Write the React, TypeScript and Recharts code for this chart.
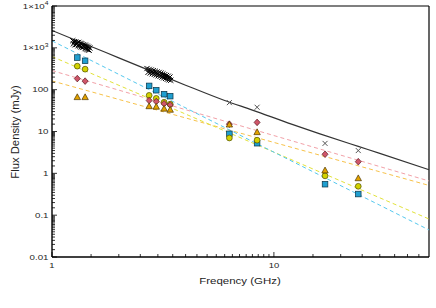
import { ComposedChart, Line, Scatter, XAxis, YAxis, ReferenceLine } from "recharts";

// black crosses: L-band cluster
const lFreq = [1.24, 1.25, 1.26, 1.27, 1.28, 1.29, 1.3, 1.31, 1.32, 1.33, 1.34, 1.35, 1.36, 1.37, 1.38, 1.39, 1.4, 1.41, 1.42, 1.43, 1.44, 1.45, 1.46, 1.47, 1.48];
const lFlux = [1480, 1250, 1400, 1180, 1390, 1200, 1330, 1120, 1350, 1100, 1280, 1050, 1250, 1020, 1190, 1060, 1160, 960, 1120, 930, 1090, 900, 1040, 880, 990];
// black crosses: S-band cluster
const sFreq = [2.68, 2.71, 2.74, 2.77, 2.8, 2.83, 2.86, 2.89, 2.92, 2.95, 2.98, 3.01, 3.04, 3.07, 3.1, 3.13, 3.16, 3.19, 3.22, 3.25, 3.28, 3.31, 3.34, 3.37, 3.4, 3.43];
const sFlux = [320, 260, 305, 250, 295, 240, 285, 232, 275, 225, 265, 215, 258, 208, 248, 200, 238, 192, 228, 186, 218, 178, 210, 172, 200, 168];
// isolated crosses
const hiFreq = [6.3, 8.4, 17, 24];
const hiFlux = [49, 38, 5.2, 3.5];

// coloured components
const ptFreq = [1.3, 1.41, 2.74, 2.95, 3.2, 3.41, 6.3, 8.4, 17, 24];
const blueFlux = [586, 489, 123, 97, 78, 70, 8.8, 5.25, 0.55, 0.32];
const yellowFlux = [365, 309, 73, 62, 50, 45, 7.0, 6.2, 0.87, 0.49];
const pinkFlux = [184, 160, 55, 52, 46, 43, 15, 16.5, 2.86, 1.9];
const orangeFlux = [66, 66, 40, 39, 35, 33, 14.6, 9.6, 1.17, 0.76];

// dashed fits
const fitFreq = [1, 3, 10, 30, 50];
const blueFit = [1470, 79, 3.2, 0.173, 0.0443];
const yellowFit = [620, 50.4, 3.21, 0.26, 0.081];
const pinkFit = [286, 51.9, 8.0, 1.45, 0.657];
const orangeFit = [162, 32.2, 5.48, 1.09, 0.514];

// total model (solid)
const modelFreq = [1, 1.5, 2, 3, 4, 6, 8, 12, 16, 24, 30, 50];
const modelFlux = [2600, 1080, 575, 238, 128, 55, 32.5, 15, 8.9, 4.4, 3.0, 1.22];

const xMajor = [1, 10];
const xLabels = ["1", "10"];
const yMajor = [0.01, 0.1, 1, 10, 100, 1000, 10000];
const yLabels = ["0.01", "0.1", "1", "10", "100", "1\u00d710^3", "1\u00d710^4"];
const minorSteps = [1.5, 2, 2.5, 3, 3.5, 4, 4.5, 5, 5.5, 6, 6.5, 7, 7.5, 8, 8.5, 9, 9.5];

const xTicks = xMajor.flatMap((m) => [m, ...minorSteps.map((s) => s * m)]).filter((v) => v < 50);
const yTicks = yMajor.flatMap((m) => (m < 10000 ? [m, ...minorSteps.map((s) => s * m)] : [m]));

const pts = (xs: number[], ys: number[]) => xs.map((f, i) => ({ f, v: ys[i] }));

const FONT = "'Liberation Sans', Arial, sans-serif";

function StretchText({ x, y, anchor, size, children }: any) {
	return (
		<text
			transform={`translate(${x},${y}) scale(1.35,1)`}
			textAnchor={anchor}
			fontSize={size}
			fontFamily={FONT}
			fill="#222"
		>
			{children}
		</text>
	);
}

const XTick = (props: any) => {
	const { x, y, payload } = props;
	const i = xMajor.indexOf(payload.value);
	return (
		<g>
			<line x1={x} x2={x} y1={y} y2={y - (i >= 0 ? 5 : 3)} stroke="#000" strokeWidth={0.8} />
			{i >= 0 && (
				<StretchText x={x} y={y + 10.5} anchor="middle" size={7}>
					{xLabels[i]}
				</StretchText>
			)}
		</g>
	);
};

const YTick = (props: any) => {
	const { x, y, payload } = props;
	const i = yMajor.indexOf(payload.value);
	const parts = i >= 0 ? yLabels[i].split("^") : [];
	return (
		<g>
			<line x1={x} x2={x + (i >= 0 ? 5 : 3)} y1={y} y2={y} stroke="#000" strokeWidth={0.8} />
			{i >= 0 && (
				<StretchText x={x - 3.5} y={y + 2.5} anchor="end" size={7.2}>
					{parts[0]}
					{parts[1] && (
						<tspan dy={-3.5} fontSize={5}>
							{parts[1]}
						</tspan>
					)}
				</StretchText>
			)}
		</g>
	);
};

const Cross = (color: string, r: number) => (p: any) => {
	const { cx, cy } = p;
	return (
		<g stroke={color} strokeWidth={1}>
			<line x1={cx - r} y1={cy - r} x2={cx + r} y2={cy + r} />
			<line x1={cx - r} y1={cy + r} x2={cx + r} y2={cy - r} />
		</g>
	);
};

const Square = (p: any) => (
	<rect x={p.cx - 2.8} y={p.cy - 2.8} width={5.6} height={5.6} fill="#1f9fd0" stroke="#0b3345" strokeWidth={0.7} />
);
const Dot = (p: any) => <circle cx={p.cx} cy={p.cy} r={2.9} fill="#d2d200" stroke="#4d4d00" strokeWidth={0.7} />;
const Diamond = (p: any) => (
	<polygon
		points={`${p.cx},${p.cy - 3.3} ${p.cx + 3},${p.cy} ${p.cx},${p.cy + 3.3} ${p.cx - 3},${p.cy}`}
		fill="#d0566a"
		stroke="#5a1a22"
		strokeWidth={0.7}
	/>
);
const Triangle = (p: any) => (
	<polygon
		points={`${p.cx},${p.cy - 3.4} ${p.cx + 3.2},${p.cy + 2.4} ${p.cx - 3.2},${p.cy + 2.4}`}
		fill="#e3a300"
		stroke="#4a3300"
		strokeWidth={0.7}
	/>
);

export default function App() {
	return (
		<div style={{ position: "absolute", left: 0, top: 0, width: 436, height: 308, background: "#fff" }}>
			<ComposedChart width={436} height={308} margin={{ top: 6, right: 7, bottom: 0, left: 0 }}>
				<XAxis
					dataKey="f"
					type="number"
					scale="log"
					domain={[1, 50]}
					allowDataOverflow
					ticks={xTicks}
					interval={0}
					tick={<XTick />}
					tickLine={false}
					tickSize={0}
					tickMargin={0}
					height={51}
					axisLine={{ stroke: "#000", strokeWidth: 1.4 }}
					label={{
						content: () => (
							<StretchText x={240} y={283.5} anchor="middle" size={8.5}>
								Freqency (GHz)
							</StretchText>
						),
					}}
				/>
				<YAxis
					dataKey="v"
					type="number"
					scale="log"
					domain={[0.01, 10000]}
					allowDataOverflow
					ticks={yTicks}
					interval={0}
					tick={<YTick />}
					tickLine={false}
					tickSize={0}
					tickMargin={0}
					width={52}
					axisLine={{ stroke: "#000", strokeWidth: 1.4 }}
					label={{
						content: () => (
							<text
								x={15}
								y={132}
								transform="rotate(-90 15 132)"
								textAnchor="middle"
								dominantBaseline="central"
								fontSize={11.3}
								fontFamily={FONT}
								fill="#222"
							>
								Flux Density (mJy)
							</text>
						),
					}}
				/>
				<ReferenceLine y={10000} stroke="#000" strokeWidth={1.2} />
				<ReferenceLine x={50} stroke="#000" strokeWidth={1.2} />

				<Line data={pts(fitFreq, pinkFit)} dataKey="v" stroke="#f2a1a8" strokeWidth={1} strokeDasharray="4 3" dot={false} isAnimationActive={false} />
				<Line data={pts(fitFreq, orangeFit)} dataKey="v" stroke="#f7c24a" strokeWidth={1} strokeDasharray="4 3" dot={false} isAnimationActive={false} />
				<Line data={pts(fitFreq, yellowFit)} dataKey="v" stroke="#e2e23a" strokeWidth={1} strokeDasharray="4 3" dot={false} isAnimationActive={false} />
				<Line data={pts(fitFreq, blueFit)} dataKey="v" stroke="#55c8ee" strokeWidth={1} strokeDasharray="4 3" dot={false} isAnimationActive={false} />
				<Line data={pts(modelFreq, modelFlux)} dataKey="v" type="monotone" stroke="#333" strokeWidth={1.2} dot={false} isAnimationActive={false} />

				<Scatter data={pts(lFreq, lFlux)} dataKey="v" shape={Cross("#000", 2.6)} isAnimationActive={false} />
				<Scatter data={pts(sFreq, sFlux)} dataKey="v" shape={Cross("#000", 2.6)} isAnimationActive={false} />
				<Scatter data={pts(hiFreq, hiFlux)} dataKey="v" shape={Cross("#555", 2.5)} isAnimationActive={false} />

				<Scatter data={pts(ptFreq, blueFlux)} dataKey="v" shape={Square} isAnimationActive={false} />
				<Scatter data={pts(ptFreq, yellowFlux)} dataKey="v" shape={Dot} isAnimationActive={false} />
				<Scatter data={pts(ptFreq, pinkFlux)} dataKey="v" shape={Diamond} isAnimationActive={false} />
				<Scatter data={pts(ptFreq, orangeFlux)} dataKey="v" shape={Triangle} isAnimationActive={false} />
			</ComposedChart>
		</div>
	);
}
